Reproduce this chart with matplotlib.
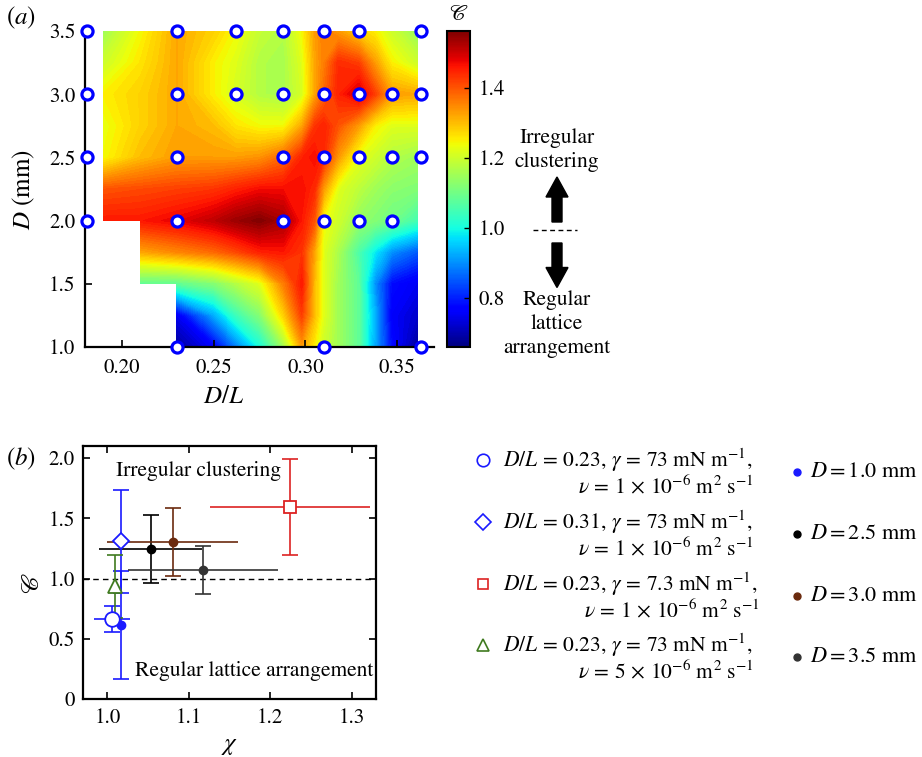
import numpy as np
import matplotlib
matplotlib.use('Agg')
import matplotlib.pyplot as plt
import matplotlib.colors as mcolors
import matplotlib.cm as cm
from matplotlib.patches import FancyArrow

plt.rcParams['font.family'] = ['STIXGeneral', 'DejaVu Serif']
plt.rcParams['mathtext.fontset'] = 'stix'

# ---------------- panel (a) data ----------------
dl_grid = [0.19, 0.21, 0.23, 0.25, 0.262, 0.275, 0.288, 0.298, 0.305, 0.31, 0.318, 0.329, 0.338, 0.347, 0.361]
d_grid = [1.0, 1.25, 1.5, 1.75, 2.0, 2.25, 2.5, 2.75, 3.0, 3.25, 3.5]
N = np.nan
c_row_100 = [N, N, 0.68, 0.76, 0.88, 1.00, 1.15, 1.33, 1.25, 1.20, 1.15, 1.08, 0.92, 0.78, 0.68]
c_row_125 = [N, N, 0.75, 0.92, 1.04, 1.12, 1.28, 1.42, 1.30, 1.22, 1.15, 1.08, 0.93, 0.76, 0.72]
c_row_150 = [N, 1.08, 1.08, 1.12, 1.17, 1.22, 1.36, 1.46, 1.30, 1.22, 1.15, 1.08, 0.90, 0.78, 0.75]
c_row_175 = [N, 1.32, 1.35, 1.38, 1.41, 1.45, 1.46, 1.43, 1.32, 1.22, 1.16, 1.06, 0.98, 0.90, 0.85]
c_row_200 = [1.46, 1.46, 1.48, 1.51, 1.54, 1.56, 1.53, 1.46, 1.40, 1.24, 1.20, 1.14, 1.12, 1.10, 1.05]
c_row_225 = [1.40, 1.41, 1.42, 1.43, 1.45, 1.47, 1.47, 1.47, 1.44, 1.33, 1.22, 1.18, 1.15, 1.13, 1.12]
c_row_250 = [1.24, 1.30, 1.33, 1.33, 1.33, 1.34, 1.38, 1.45, 1.47, 1.44, 1.33, 1.23, 1.20, 1.17, 1.15]
c_row_275 = [1.23, 1.28, 1.32, 1.30, 1.26, 1.24, 1.24, 1.32, 1.43, 1.45, 1.40, 1.33, 1.25, 1.22, 1.22]
c_row_300 = [1.25, 1.28, 1.32, 1.25, 1.21, 1.17, 1.16, 1.21, 1.32, 1.38, 1.45, 1.50, 1.42, 1.33, 1.32]
c_row_325 = [1.20, 1.26, 1.32, 1.25, 1.22, 1.17, 1.16, 1.22, 1.32, 1.36, 1.44, 1.42, 1.33, 1.25, 1.20]
c_row_350 = [1.15, 1.24, 1.32, 1.28, 1.24, 1.19, 1.17, 1.24, 1.33, 1.36, 1.33, 1.28, 1.25, 1.20, 1.14]

meas_dl = [0.181, 0.23, 0.262, 0.288, 0.31, 0.329, 0.363,
           0.181, 0.23, 0.262, 0.288, 0.31, 0.329, 0.347, 0.363,
           0.181, 0.23, 0.288, 0.31, 0.329, 0.347, 0.363,
           0.181, 0.23, 0.288, 0.31, 0.329, 0.347,
           0.23, 0.31, 0.363]
meas_d = [3.5] * 7 + [3.0] * 8 + [2.5] * 7 + [2.0] * 6 + [1.0] * 3

c_min, c_max = 0.66, 1.563
cbar_ticks = [0.8, 1.0, 1.2, 1.4]

# ---------------- panel (b) data ----------------
series_labels1 = [r'$D/L\,=\,0.23$, $\gamma\,=\,73\ \mathrm{mN\ m^{-1}}$,',
                  r'$D/L\,=\,0.31$, $\gamma\,=\,73\ \mathrm{mN\ m^{-1}}$,',
                  r'$D/L\,=\,0.23$, $\gamma\,=\,7.3\ \mathrm{mN\ m^{-1}}$,',
                  r'$D/L\,=\,0.23$, $\gamma\,=\,73\ \mathrm{mN\ m^{-1}}$,']
series_labels2 = [r'$\nu\,=\,1\,\times\,10^{-6}\ \mathrm{m^2\ s^{-1}}$',
                  r'$\nu\,=\,1\,\times\,10^{-6}\ \mathrm{m^2\ s^{-1}}$',
                  r'$\nu\,=\,1\,\times\,10^{-6}\ \mathrm{m^2\ s^{-1}}$',
                  r'$\nu\,=\,5\,\times\,10^{-6}\ \mathrm{m^2\ s^{-1}}$']
open_chi = [1.0054, 1.0163, 1.2242, 1.0095]
open_chi_err = [0.022, 0.009, 0.098, 0.003]
open_c = [0.665, 1.308, 1.596, 0.934]
open_c_err = [0.109, 0.426, 0.400, 0.264]
open_markers = ['o', 'D', 's', '^']
open_colors = ['#1a1aff', '#1a1aff', '#dd2222', '#3f7a1f']
open_ms = [10.5, 8, 8, 10]

dot_labels = [r'$D=1.0\ \mathrm{mm}$', r'$D=2.5\ \mathrm{mm}$',
              r'$D=3.0\ \mathrm{mm}$', r'$D=3.5\ \mathrm{mm}$']
dot_chi = [1.0163, 1.053, 1.080, 1.117]
dot_chi_err = [0.003, 0.063, 0.081, 0.092]
dot_c = [0.615, 1.247, 1.300, 1.073]
dot_c_err = [0.445, 0.282, 0.283, 0.198]
dot_colors = ['#1a1aff', '#000000', '#6b2a0e', '#333333']

chi_ticks = [1.0, 1.1, 1.2, 1.3]
c_ticks_b = [0, 0.5, 1.0, 1.5, 2.0]
c_ticklabels_b = ['0', '0.5', '1.0', '1.5', '2.0']

# ---------------- figure ----------------
W, H = 922, 757
fig = plt.figure(figsize=(W / 100, H / 100), dpi=100)
TFS = 15
TXT = 15.5
LAB = 18

def box(x0, y0, x1, y1):
    return [x0 / W, 1 - y1 / H, (x1 - x0) / W, (y1 - y0) / H]

# panel (a)
ax1 = fig.add_axes(box(85, 31, 434, 347))
c_field = np.array([c_row_100, c_row_125, c_row_150, c_row_175, c_row_200, c_row_225,
                    c_row_250, c_row_275, c_row_300, c_row_325, c_row_350])
xg = np.array(dl_grid)
yg = np.array(d_grid)
norm = mcolors.Normalize(c_min, c_max)
levels = np.linspace(c_min, c_max, 90)
# measured region is a staircase: three rectangular blocks of the same grid
for r0, r1, c0 in [(4, 11, 0), (2, 5, 1), (0, 3, 2)]:
    ax1.contourf(xg[c0:], yg[r0:r1], c_field[r0:r1, c0:], levels=levels,
                 cmap='jet', norm=norm, extend='both')
ax1.plot(meas_dl, meas_d, 'o', mfc='white', mec='blue', ms=8, mew=2.3, clip_on=False, zorder=5)
ax1.set_xlim(0.18, 0.37)
ax1.set_ylim(1.0, 3.5)
ax1.spines['top'].set_visible(False)
ax1.spines['right'].set_visible(False)
for s in ['left', 'bottom']:
    ax1.spines[s].set_linewidth(1.6)
ax1.set_xticks([0.20, 0.25, 0.30, 0.35])
ax1.set_xticklabels(['0.20', '0.25', '0.30', '0.35'])
ax1.set_yticks([1.0, 1.5, 2.0, 2.5, 3.0, 3.5])
ax1.set_yticklabels(['1.0', '1.5', '2.0', '2.5', '3.0', '3.5'])
ax1.tick_params(direction='in', length=5, width=1.2, labelsize=TFS)
ax1.tick_params(axis='x', pad=8)
ax1.tick_params(axis='y', pad=7)

# colorbar
cax = fig.add_axes(box(447, 31, 470, 347))
sm = cm.ScalarMappable(norm=norm, cmap='jet')
cb = fig.colorbar(sm, cax=cax)
cb.set_ticks(cbar_ticks)
cb.set_ticklabels(['0.8', '1.0', '1.2', '1.4'])
cax.tick_params(direction='in', length=4, width=1.0, labelsize=TFS, pad=6)
cb.outline.set_linewidth(1.5)

# panel (b)
ax2 = fig.add_axes(box(83, 446, 376, 699))
ax2.axhline(1.0, color='black', lw=1.0, ls=(0, (4, 3)), zorder=1)
for x, xe, y, ye, col in zip(dot_chi, dot_chi_err, dot_c, dot_c_err, dot_colors):
    ax2.errorbar(x, y, xerr=xe, fmt='none', ecolor=col, elinewidth=1.2, capsize=0, zorder=2)
    ax2.errorbar(x, y, yerr=ye, fmt='none', ecolor=col, elinewidth=1.2, capsize=6, capthick=1.2, zorder=2)
for x, xe, y, ye, col in zip(open_chi, open_chi_err, open_c, open_c_err, open_colors):
    ax2.errorbar(x, y, xerr=xe, fmt='none', ecolor=col, elinewidth=1.2, capsize=0, zorder=3)
    ax2.errorbar(x, y, yerr=ye, fmt='none', ecolor=col, elinewidth=1.2, capsize=6, capthick=1.2, zorder=3)
for x, y, col in zip(dot_chi, dot_c, dot_colors):
    ax2.plot(x, y, 'o', color=col, ms=6, zorder=4)
for x, y, col, mk, ms in zip(open_chi, open_c, open_colors, open_markers, open_ms):
    ax2.plot(x, y, mk, mfc='white', mec=col, ms=ms, mew=1.3, zorder=5)
ax2.set_xlim(0.97, 1.33)
ax2.set_ylim(0, 2.1)
ax2.set_xticks(chi_ticks)
ax2.set_xticklabels(['1.0', '1.1', '1.2', '1.3'])
ax2.set_yticks(c_ticks_b)
ax2.set_yticklabels(c_ticklabels_b)
ax2.tick_params(direction='in', length=5, width=1.2, labelsize=TFS, top=True, right=True)
ax2.tick_params(axis='x', pad=7)
ax2.tick_params(axis='y', pad=6)
for s in ax2.spines.values():
    s.set_linewidth(1.6)
ax2.text(1.011, 1.89, 'Irregular clustering', fontsize=TXT, va='center', ha='left')
ax2.text(1.327, 0.23, 'Regular lattice arrangement', fontsize=TXT, va='center', ha='right')

# overlay in pixel coordinates
ov = fig.add_axes([0, 0, 1, 1], zorder=10)
ov.set_xlim(0, W)
ov.set_ylim(H, 0)
ov.axis('off')
ov.patch.set_alpha(0)

ov.text(21, 18, r'($a$)', fontsize=LAB, ha='center', va='center')
ov.text(21, 459, r'($b$)', fontsize=LAB, ha='center', va='center')
ov.text(24, 190, r'$D$ (mm)', fontsize=LAB, ha='center', va='center', rotation=90)
ov.text(224, 397, r'$D/L$', fontsize=LAB, ha='center', va='center')
ov.text(459, 15, r'$\mathscr{C}$', fontsize=16, ha='center', va='center')
ov.text(33, 583, r'$\mathscr{C}$', fontsize=LAB, ha='center', va='center', rotation=90)
ov.text(230, 745, r'$\chi$', fontsize=LAB, ha='center', va='center')

# annotations right of colorbar
for txt, yy in [('Irregular', 138), ('clustering', 162), ('Regular', 300), ('lattice', 324), ('arrangement', 348)]:
    ov.text(557, yy, txt, fontsize=TXT, ha='center', va='center')
ov.add_patch(FancyArrow(557, 222, 0, -45, width=10, head_width=22, head_length=20,
                        length_includes_head=True, color='black'))
ov.add_patch(FancyArrow(557, 243, 0, 44.5, width=10, head_width=22, head_length=20,
                        length_includes_head=True, color='black'))
ov.plot([533, 577], [229.5, 229.5], color='black', lw=1.0, ls=(0, (3.5, 2.5)))

# legend
LFS = 15.5
leg_y1 = [460, 522, 584, 645]
leg_y2 = [487, 549, 611, 672]
leg_x2 = [754, 754, 760, 754]
leg_ms = [9, 8, 7, 9]
for i in range(4):
    ov.plot(483, leg_y1[i], open_markers[i], mfc='white', mec=open_colors[i], ms=leg_ms[i], mew=1.2)
    ov.text(503, leg_y1[i], series_labels1[i], fontsize=LFS, ha='left', va='center')
    ov.text(leg_x2[i], leg_y2[i], series_labels2[i], fontsize=LFS, ha='right', va='center')
dot_leg_y = [472, 534, 596, 657]
for i in range(4):
    ov.plot(797, dot_leg_y[i], 'o', color=dot_colors[i], ms=5)
    ov.text(810, dot_leg_y[i], dot_labels[i], fontsize=16, ha='left', va='center')

fig.savefig('out.png', dpi=100)
